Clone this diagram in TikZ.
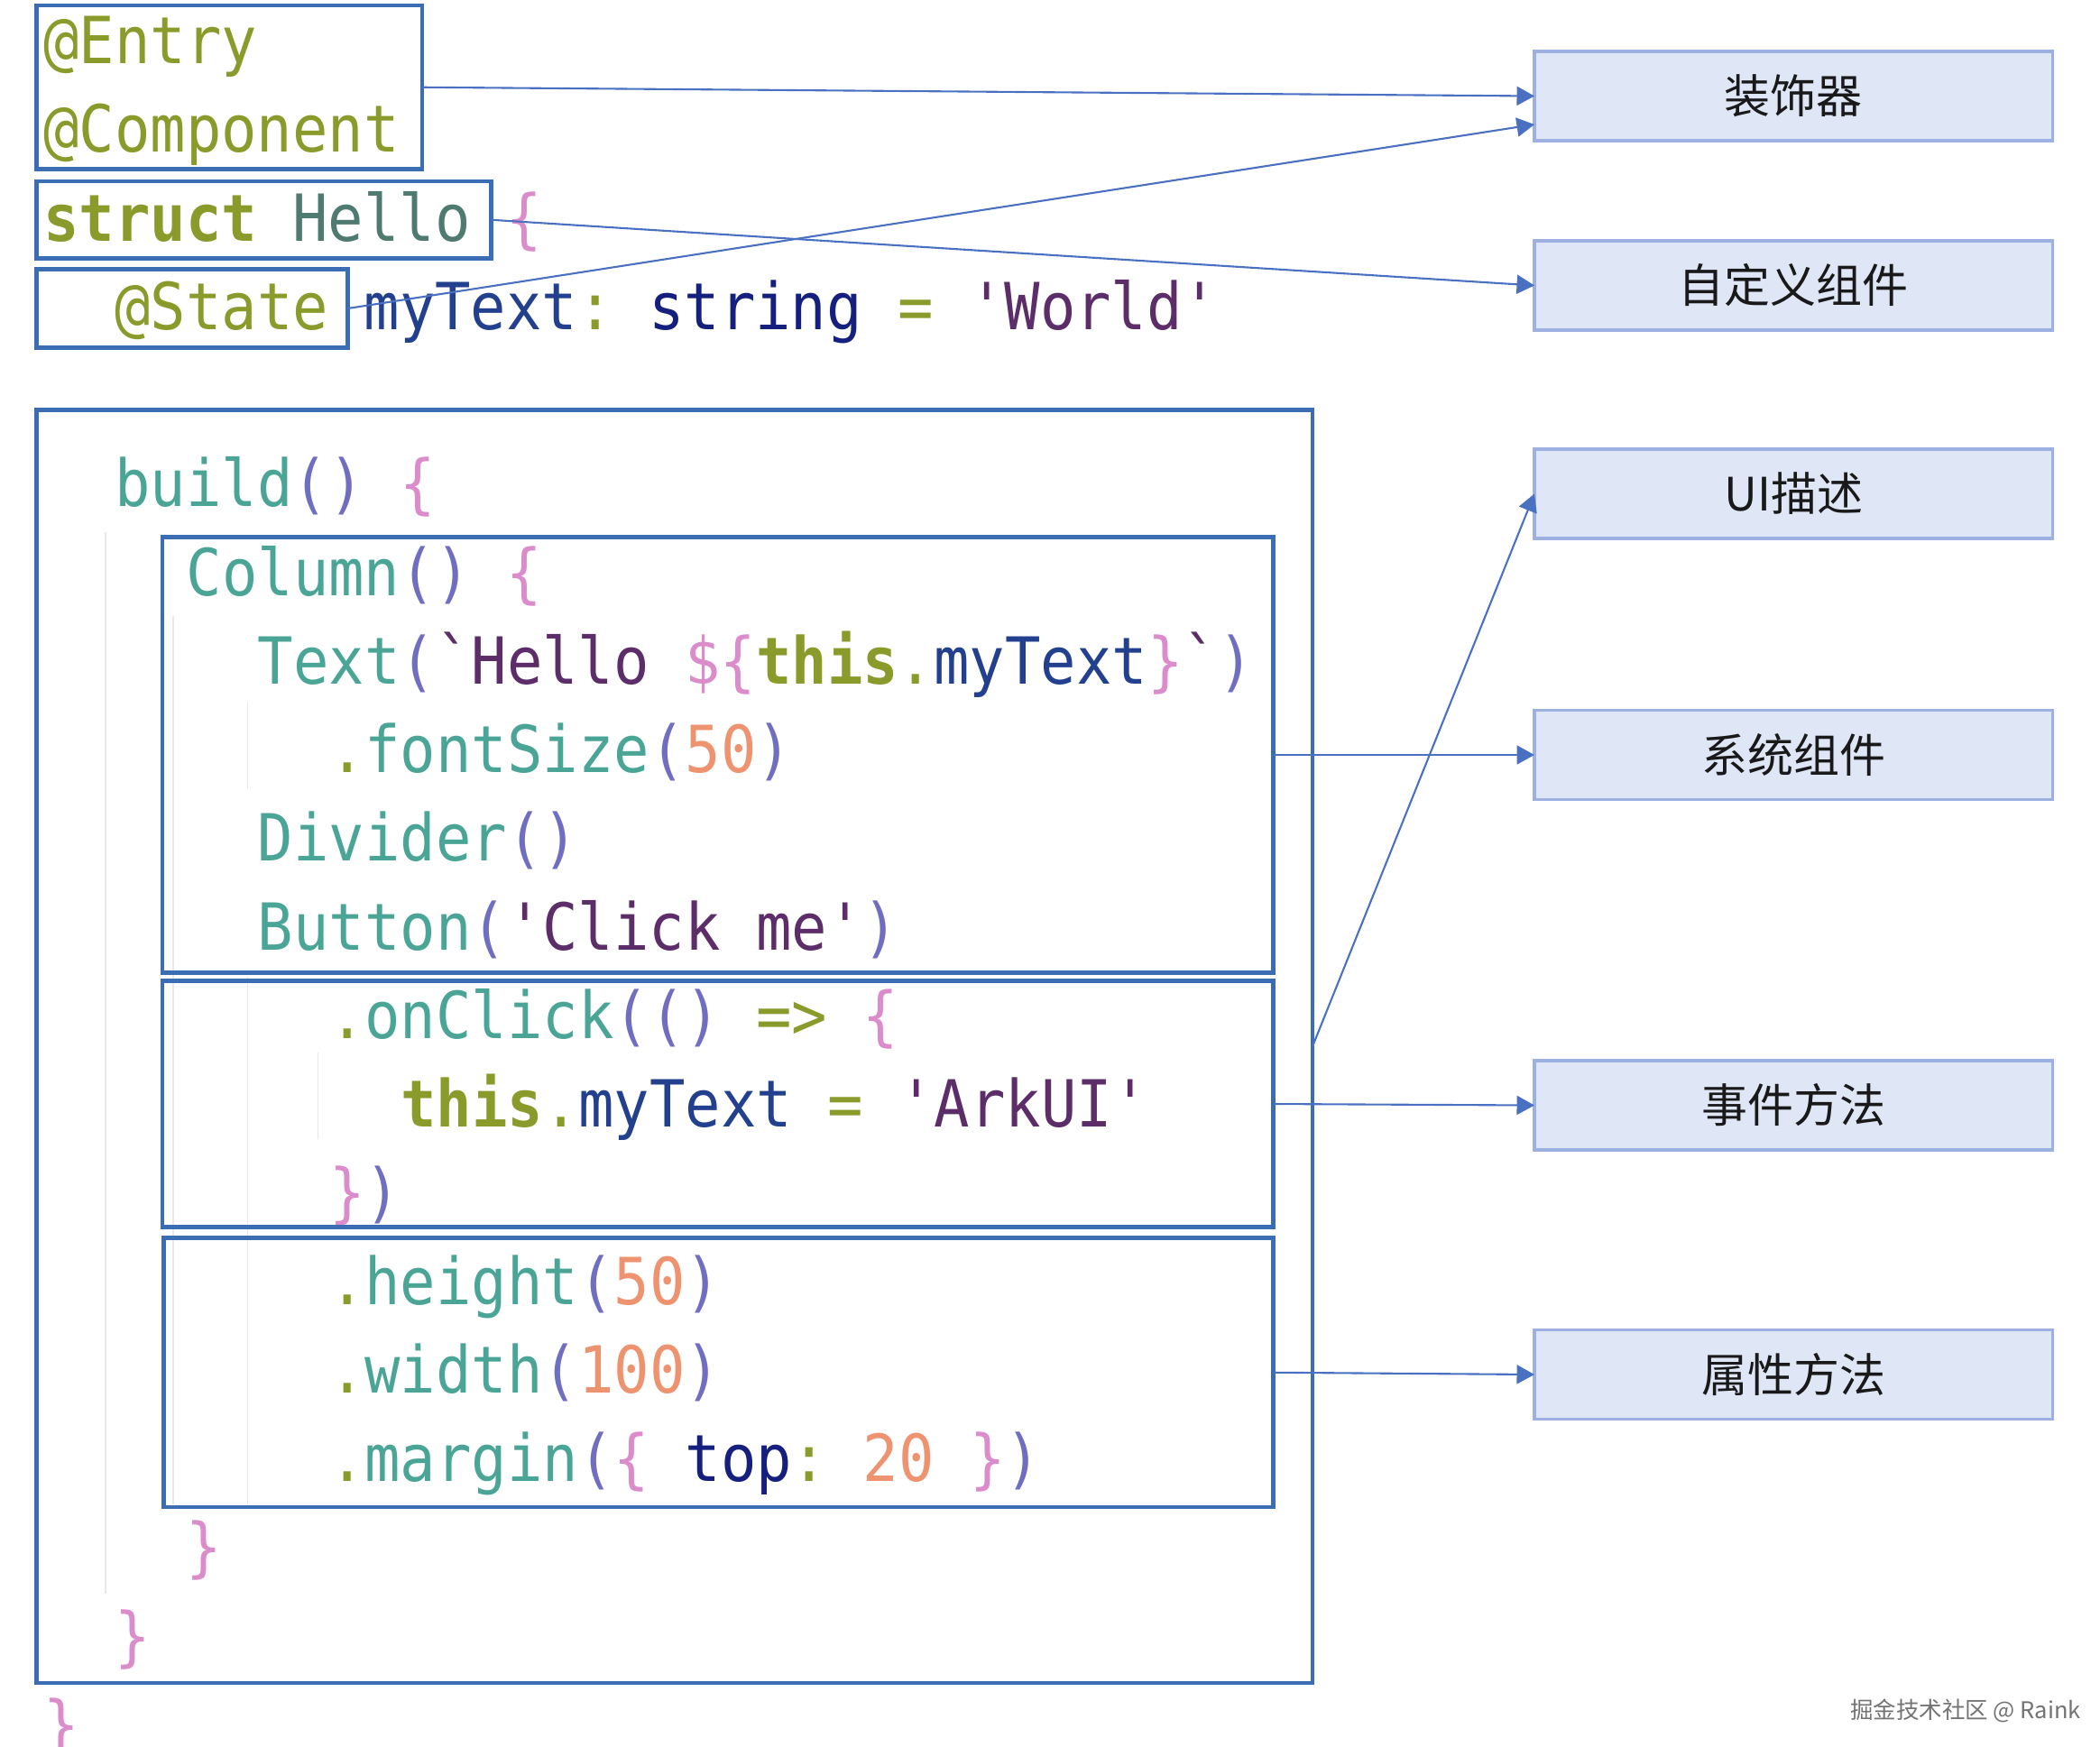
\documentclass[tikz,border=0pt]{standalone}
\usepackage{fontspec}
\setmonofont{DejaVu Sans Mono}[FakeStretch=0.91]
\newfontfamily\cjk{Noto Sans CJK SC}
\usetikzlibrary{arrows.meta}

\definecolor{ckw}{HTML}{8A9A2B}
\definecolor{cfn}{HTML}{4AA597}
\definecolor{cpar}{HTML}{6F6EC0}
\definecolor{cbrace}{HTML}{DB8CCB}
\definecolor{cstring}{HTML}{5C2D68}
\definecolor{cnum}{HTML}{EE9370}
\definecolor{cvar}{HTML}{23408E}
\definecolor{ctype}{HTML}{141F7E}
\definecolor{cname}{HTML}{4E7A70}
\definecolor{frame}{HTML}{3A6DB3}
\definecolor{arrow}{HTML}{4A70C2}
\definecolor{boxfill}{HTML}{DFE6F6}
\definecolor{boxline}{HTML}{9DB0E2}

\newcommand\kw[1]{\textcolor{ckw}{#1}}
\newcommand\fn[1]{\textcolor{cfn}{#1}}
\newcommand\pa[1]{\textcolor{cpar}{#1}}
\newcommand\brc[1]{\textcolor{cbrace}{#1}}
\newcommand\cstr[1]{\textcolor{cstring}{#1}}
\newcommand\nm[1]{\textcolor{cnum}{#1}}
\newcommand\var[1]{\textcolor{cvar}{#1}}
\newcommand\typ[1]{\textcolor{ctype}{#1}}
\newcommand\sq{\char"27\relax}
\newcommand\bq{\char"60\relax}

\begin{document}
\begin{tikzpicture}[x=1pt,y=-1pt]
  \useasboundingbox (0,0) rectangle (1552,1291);

  % indent guides
  \begin{scope}[draw=black!9, line width=1pt]
    \draw (78,393) -- (78,1178);
    \draw (128,455) -- (128,1112);
    \draw (183,519) -- (183,583);
    \draw (183,722) -- (183,1112);
    \draw (235,778) -- (235,842);
  \end{scope}

  % code
  \begin{scope}[every node/.style={anchor=base west, inner sep=0,
      font=\ttfamily\fontsize{48}{58}\selectfont\frenchspacing}]
    \node (c1)  at (32,47)     {\kw{@Entry}};
    \node (c2)  at (32,112.5)  {\kw{@Component}};
    \node (c3)  at (32,178)    {\textbf{\kw{struct}} \textcolor{cname}{Hello} \brc{\{}};
    \node (c4)  at (84.8,243.5) {\kw{@State} \var{myText}\kw{:} \typ{string} \kw{=} \cstr{\sq World\sq}};
    \node (c6)  at (84.8,374.5) {\fn{build}\pa{()} \brc{\{}};
    \node (c7)  at (137.6,440)  {\fn{Column}\pa{()} \brc{\{}};
    \node (c8)  at (190.4,505.5) {\fn{Text}\pa{(}\cstr{\bq Hello} \brc{\$\{}\textbf{\kw{this}}\kw{.}\var{myText}\brc{\}}\cstr{\bq}\pa{)}};
    \node (c9)  at (243.2,571)  {\kw{.}\fn{fontSize}\pa{(}\nm{50}\pa{)}};
    \node (c10) at (190.4,636.5) {\fn{Divider}\pa{()}};
    \node (c11) at (190.4,702)  {\fn{Button}\pa{(}\cstr{\sq Click me\sq}\pa{)}};
    \node (c12) at (243.2,767.5) {\kw{.}\fn{onClick}\pa{(()} \kw{=>} \brc{\{}};
    \node (c13) at (296,833)    {\textbf{\kw{this}}\kw{.}\var{myText} \kw{=} \cstr{\sq ArkUI\sq}};
    \node (c14) at (243.2,898.5) {\brc{\}}\pa{)}};
    \node (c15) at (243.2,964)  {\kw{.}\fn{height}\pa{(}\nm{50}\pa{)}};
    \node (c16) at (243.2,1029.5) {\kw{.}\fn{width}\pa{(}\nm{100}\pa{)}};
    \node (c17) at (243.2,1095) {\kw{.}\fn{margin}\pa{(}\brc{\{} \typ{top}\kw{:} \nm{20} \brc{\}}\pa{)}};
    \node (c18) at (137.6,1160.5) {\brc{\}}};
    \node (c19) at (84.8,1226)  {\brc{\}}};
    \node (c20) at (32,1291.5)  {\brc{\}}};
  \end{scope}

  % frames round the code
  \begin{scope}[every node/.style={draw=frame, line width=2.7pt, inner sep=0, outer sep=0}]
    \node[minimum width=285pt, minimum height=121pt] (f1) at (169.5,64.5) {};
    \node[minimum width=336pt, minimum height=57pt]  (f2) at (195,162.5) {};
    \node[minimum width=230pt, minimum height=58pt]  (f3) at (142,228) {};
    \node[minimum width=943pt, minimum height=941pt] (f4) at (498.5,773.5) {};
    \node[minimum width=821pt, minimum height=322pt] (f5) at (530.5,558) {};
    \node[minimum width=821pt, minimum height=182pt] (f6) at (530.5,816) {};
    \node[minimum width=820pt, minimum height=199pt] (f7) at (531,1014.5) {};
  \end{scope}

  % labels
  \begin{scope}[every node/.style={draw=boxline, fill=boxfill, line width=2.2pt,
      minimum width=383pt, minimum height=66pt, inner sep=0, outer sep=0,
      text=black!90, font=\cjk\fontsize{34}{40}\selectfont}]
    \node (r1) at (1325.5,71)  {装饰器};
    \node (r2) at (1325.5,211) {自定义组件};
    \node (r3) at (1325.5,365) {UI描述};
    \node (r4) at (1325.5,558) {系统组件};
    \node (r5) at (1325.5,817) {事件方法};
    \node (r6) at (1325.5,1016) {属性方法};
  \end{scope}

  \begin{scope}[every edge/.style={draw=arrow, line width=1.4pt,
      -{Triangle[length=13pt,width=14pt]}}]
    \path (f1.east) edge (r1.west);
    \path (f3.east) edge ([yshift=-21pt]r1.west);
    \path (f2.east) edge (r2.west);
    \path (f4.east) edge (r3.west);
    \path (f5.east) edge (r4.west);
    \path (f6.east) edge (r5.west);
    \path (f7.east) edge (r6.west);
  \end{scope}

  \node[anchor=base east, inner sep=0, text=black!55,
    font=\cjk\fontsize{17}{20}\selectfont] (wm) at (1538,1270) {掘金技术社区 @ Raink};

\end{tikzpicture}
\end{document}
